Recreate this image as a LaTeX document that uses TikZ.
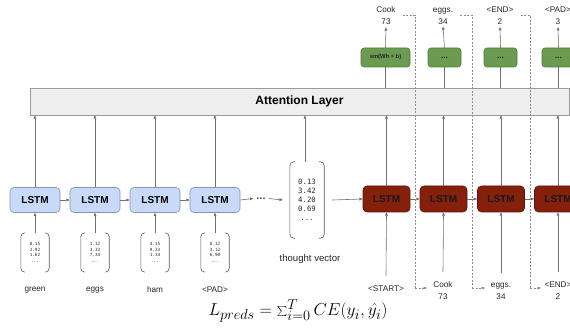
\documentclass[tikz,border=0pt]{standalone}
\usepackage{fontspec}
\setsansfont{Liberation Sans}
\setmonofont{DejaVu Sans Mono}
\usetikzlibrary{arrows.meta}
\definecolor{lineg}{HTML}{707070}
\definecolor{bluefill}{HTML}{C9DAF8}
\definecolor{blueedge}{HTML}{8094B4}
\definecolor{redfill}{HTML}{85200C}
\definecolor{rededge}{HTML}{5E1208}
\definecolor{greenfill}{HTML}{6A9B50}
\definecolor{greenedge}{HTML}{4E7C38}
\definecolor{attfill}{HTML}{EEEEEE}
\definecolor{attedge}{HTML}{9A9A9A}
\tikzset{
  arr/.style={draw=lineg, line width=0.6pt, -{Triangle[length=3.4pt,width=2.8pt]}},
  plainline/.style={draw=lineg, line width=0.6pt},
  dashline/.style={draw=lineg!80, line width=0.5pt, dash pattern=on 2pt off 1.5pt},
  lstmb/.style={draw=blueedge, fill=bluefill, rounded corners=4pt, line width=0.6pt,
    minimum width=50pt, minimum height=25pt, inner sep=0pt,
    font=\sffamily\bfseries\fontsize{10}{12}\selectfont},
  lstmr/.style={draw=rededge, fill=redfill, rounded corners=4pt, line width=0.6pt,
    minimum width=47pt, minimum height=26pt, inner sep=0pt, text=black!90,
    font=\sffamily\bfseries\fontsize{10}{12}\selectfont},
  outbox/.style={draw=greenedge, fill=greenfill, rounded corners=3pt, line width=0.6pt,
    minimum width=33pt, minimum height=19pt, inner sep=0pt, text=black!85,
    font=\sffamily\bfseries\fontsize{5.8}{7}\selectfont},
  vecsmall/.style={minimum width=28pt, minimum height=39pt, inner sep=0pt, align=center,
    text=black!85, font=\ttfamily\fontsize{4.3}{5.5}\selectfont},
  vecbig/.style={minimum width=34pt, minimum height=76pt, inner sep=0pt, align=center,
    text=black!85, font=\ttfamily\fontsize{7.3}{9}\selectfont},
  bracketline/.style={draw=black!65, line width=0.6pt, rounded corners=4pt},
  wordlbl/.style={inner sep=1pt, align=center, text=black!85,
    font=\sffamily\fontsize{8.2}{12}\selectfont},
}
\begin{document}
\begin{tikzpicture}[x=1pt, y=-1pt]
\useasboundingbox (0,0) rectangle (570,331);
\clip (0,0) rectangle (570,331);

% attention layer
\node[draw=attedge, fill=attfill, line width=0.6pt, minimum width=539pt, minimum height=27pt,
  inner sep=0pt, font=\sffamily\bfseries\fontsize{12}{14}\selectfont] (att) at (299.5,101.5) {Attention Layer};

% encoder
\foreach \i/\x/\a/\b/\c/\w in {1/35/0.15/2.92/1.62/green, 2/95/1.12/3.32/7.34/eggs,
                                 3/155/4.15/9.33/1.34/ham, 4/215/8.12/3.12/6.90/<PAD>}{
  \node[lstmb] (b\i) at (\x,200) {LSTM};
  \node[vecsmall] (v\i) at (\x,252.5) {\a\\\b\\\c\\...};
  \draw[bracketline] ([xshift=4pt]v\i.north west) -- (v\i.north west) -- (v\i.south west) -- ([xshift=4pt]v\i.south west);
  \draw[bracketline] ([xshift=-4pt]v\i.north east) -- (v\i.north east) -- (v\i.south east) -- ([xshift=-4pt]v\i.south east);
  \node[wordlbl] (w\i) at (\x,290) {\w};
  \draw[arr] (v\i.north) -- (b\i.south);
  \draw[arr] (b\i.north) -- (b\i.north |- att.south);
}
\foreach \i/\j in {1/2, 2/3, 3/4}{
  \draw[arr] (b\i.east) -- (b\j.west);
}

% continuation dots and thought vector
\node[inner sep=0pt, text=black!70, font=\sffamily\bfseries\fontsize{11}{11}\selectfont] (dots) at (261,198.5) {...};
\node[vecbig] (tv) at (307,200) {0.13\\3.42\\4.20\\0.69\\...};
\draw[bracketline] ([xshift=5pt]tv.north west) -- (tv.north west) -- (tv.south west) -- ([xshift=5pt]tv.south west);
\draw[bracketline] ([xshift=-5pt]tv.north east) -- (tv.north east) -- (tv.south east) -- ([xshift=-5pt]tv.south east);
\node[wordlbl, font=\sffamily\fontsize{9.6}{12}\selectfont] (tvl) at (310,259) {thought vector};
\draw[arr] (b4.east) -- ([xshift=-3pt]dots.west);
\draw[arr] ([xshift=3pt]dots.east) -- ([xshift=-7pt]tv.west);
\draw[arr] ([xshift=-2pt]tv.north) -- ([xshift=-2pt]tv.north |- att.south);

% decoder
\node[lstmr] (r1) at (386.5,199) {LSTM};
\node[lstmr] (r2) at (443.5,199) {LSTM};
\node[lstmr] (r3) at (501,199) {LSTM};
\node[lstmr] (r4) at (558,199) {LSTM};
\draw[arr] ([xshift=8pt]tv.east) -- (r1.west);
\foreach \i/\j in {1/2, 2/3, 3/4}{
  \draw[arr] (r\i.east) -- (r\j.west);
}

% decoder inputs
\node[wordlbl] (l1) at (386,289) {<START>};
\node[wordlbl] (l2) at (443,291) {Cook\\73};
\node[wordlbl] (l3) at (501,291) {eggs.\\34};
\node[wordlbl] (l4) at (558,291) {<END>\\2};
\foreach \i in {1,...,4}{
  \draw[arr] ([yshift=9pt]l\i.north) -- (r\i.south);
  \draw[arr] (r\i.north) -- (r\i.north |- att.south);
}

% output projections
\node[outbox, minimum width=49pt] (o1) at (385.5,57.5) {sm(Wh + b)};
\node[outbox, font=\sffamily\bfseries\fontsize{8}{8}\selectfont] (o2) at (444.5,57.5) {...};
\node[outbox, font=\sffamily\bfseries\fontsize{8}{8}\selectfont] (o3) at (500.5,57.5) {...};
\node[outbox, font=\sffamily\bfseries\fontsize{8}{8}\selectfont] (o4) at (558.5,57.5) {...};
\node[wordlbl] (t1) at (386,16) {Cook\\73};
\node[wordlbl] (t2) at (443,16) {eggs.\\34};
\node[wordlbl] (t3) at (500,16) {<END>\\2};
\node[wordlbl] (t4) at (558,16) {<PAD>\\3};
\foreach \i in {1,...,4}{
  \draw[plainline] (att.north -| o\i) -- (o\i.south);
  \draw[arr] (o\i.north) -- ([yshift=-1pt]t\i.south);
}

% feeding each prediction back as the next input
\coordinate (k1) at (415,0);
\coordinate (k2) at (472,0);
\coordinate (k3) at (530,0);
\draw[dashline] ([xshift=6pt,yshift=1pt]t1.east) -| (k1 |- 0,288);
\draw[dashline] ([xshift=6pt,yshift=1pt]t2.east) -| (k2 |- 0,288);
\draw[dashline] ([xshift=6pt,yshift=1pt]t3.east) -| (k3 |- 0,288);
\draw[dashline, -{Triangle[length=3.4pt,width=2.8pt]}] (k1 |- 0,288) -- (427,288);
\draw[dashline, -{Triangle[length=3.4pt,width=2.8pt]}] (k2 |- 0,288) -- (485,288);
\draw[dashline, -{Triangle[length=3.4pt,width=2.8pt]}] (k3 |- 0,288) -- (541,288);

% loss
\node[inner sep=0pt, font=\fontsize{19}{22}\selectfont] (loss) at (298,311)
  {$L_{preds} = \sum_{i=0}^{T} CE(y_i,\hat{y_i})$};
\end{tikzpicture}
\end{document}
